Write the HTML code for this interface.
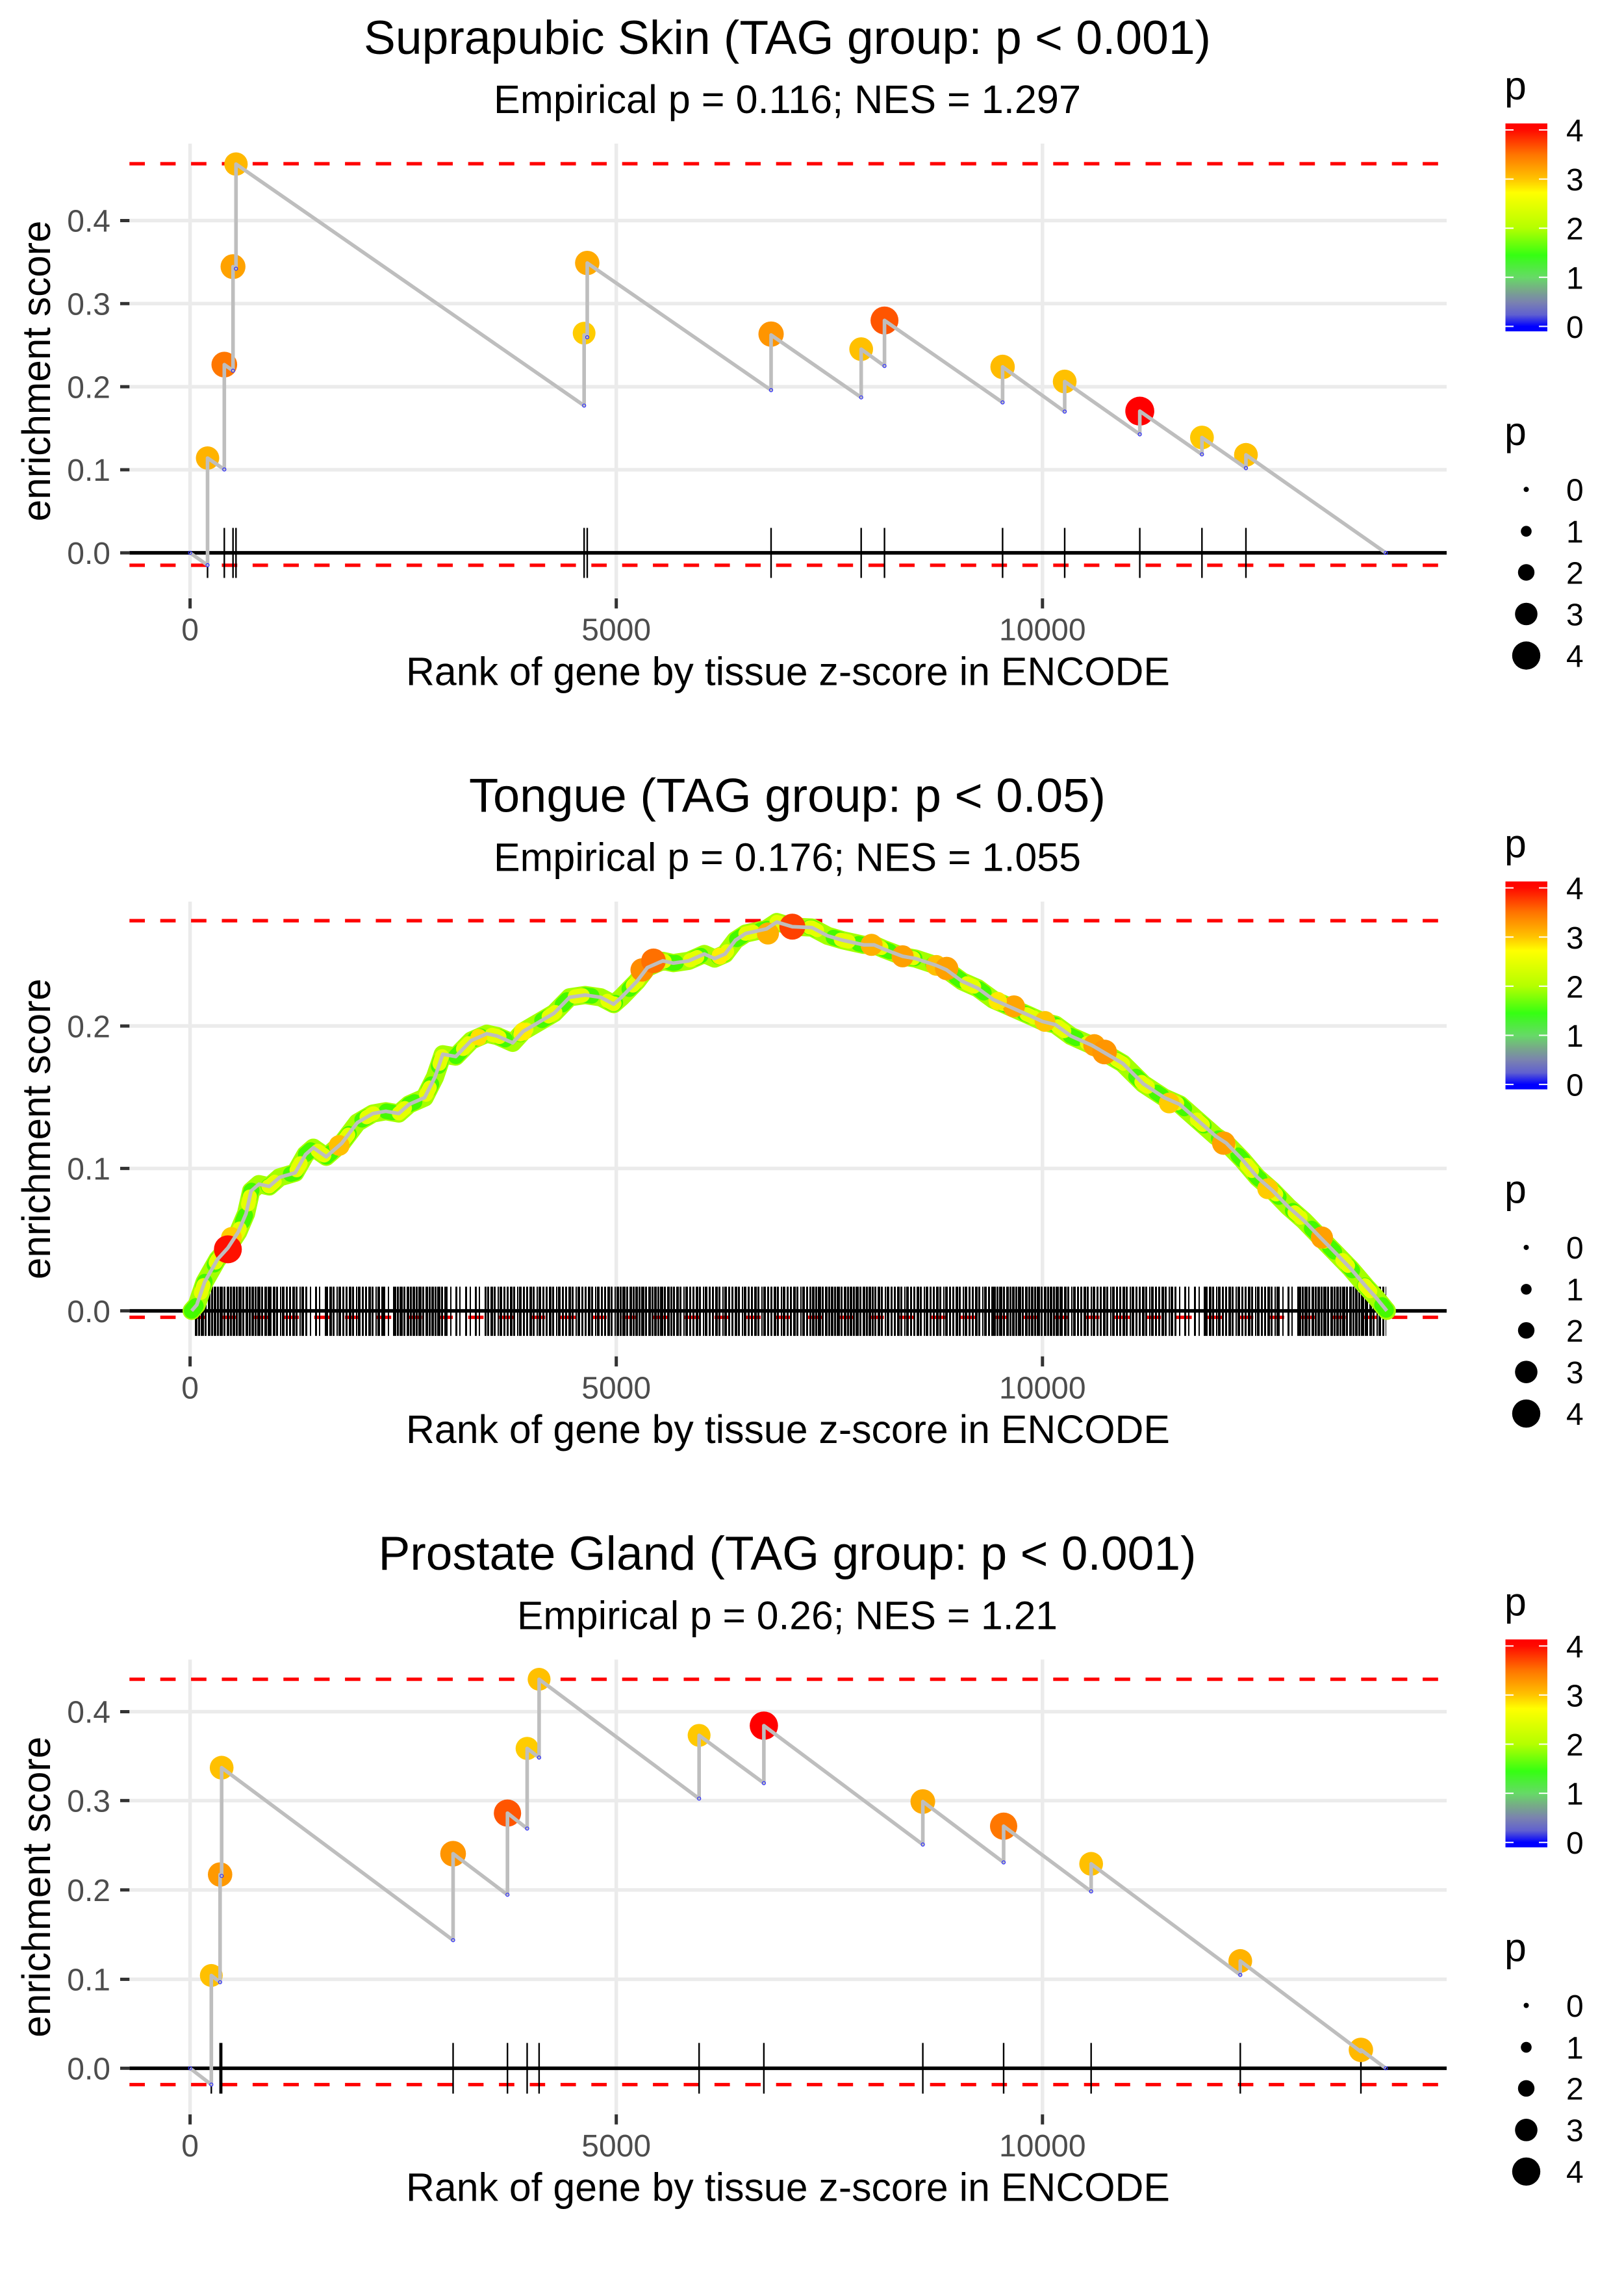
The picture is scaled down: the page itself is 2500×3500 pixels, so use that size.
<!DOCTYPE html>
<html><head><meta charset="utf-8"><style>
html,body{margin:0;padding:0;background:#fff;width:2500px;height:3500px;overflow:hidden}
svg{display:block}
text{font-family:"Liberation Sans",Arial,Helvetica,sans-serif}
</style></head><body>
<svg xmlns="http://www.w3.org/2000/svg" width="2500" height="3500" viewBox="0 0 2500 3500">
<defs>
<linearGradient id="cg" x1="0" y1="0" x2="0" y2="1">
<stop offset="0" stop-color="#FF0000"/>
<stop offset="0.031" stop-color="#FF0A00"/>
<stop offset="0.149" stop-color="#FF7400"/>
<stop offset="0.267" stop-color="#FFC400"/>
<stop offset="0.333" stop-color="#FFFF00"/>
<stop offset="0.504" stop-color="#B4FF00"/>
<stop offset="0.634" stop-color="#35FF12"/>
<stop offset="0.74" stop-color="#66DA66"/>
<stop offset="0.80" stop-color="#77AA88"/>
<stop offset="0.86" stop-color="#7A82B0"/>
<stop offset="0.92" stop-color="#6060D0"/>
<stop offset="0.976" stop-color="#0000FF"/>
<stop offset="1" stop-color="#0000FF"/>
</linearGradient>
<path id="c2" d="M295,850.9 L302.9,841.8 L314.9,806.7 L334.8,771.7 L350.8,754.1 L366.7,729.6 L378.7,701.5 L386.6,666.4 L398.6,655.9 L414.5,659.4 L430.5,645.4 L454.4,638.4 L470.3,610.3 L482.3,599.8 L502.2,613.8 L526.2,592.8 L550.1,561.2 L574,547.2 L593.9,543.7 L613.8,547.2 L629.8,533.1 L653.7,522.6 L669.6,491.1 L681.6,456 L701.5,459.5 L725.4,434.9 L749.4,424.4 L765.3,427.9 L789.2,438.4 L805.2,420.9 L829.1,406.9 L853,392.8 L876.9,368.3 L900.8,364.8 L924.7,368.3 L944.7,378.8 L956.6,368.3 L980.5,343.7 L996.5,322.7 L1020.4,312.2 L1036.4,315.7 L1060.3,312.2 L1084.2,301.6 L1100.1,308.7 L1116.1,301.6 L1132,280.6 L1148,270.1 L1179.8,263.1 L1195.8,252.5 L1219.7,259.6 L1250,261 L1273.9,273.6 L1297.8,280.6 L1329.7,287.6 L1345.7,287.6 L1361.6,294.6 L1389.5,305.2 L1409.4,308.7 L1441.3,319.2 L1457.3,326.2 L1481.2,343.7 L1505.1,354.3 L1529,371.8 L1552.9,382.3 L1584.8,396.4 L1604.8,405.5 L1624.7,410.4 L1648.6,427.9 L1680.5,442 L1704.4,456 L1728.3,470 L1760.2,501.6 L1792.1,522.6 L1816,533.1 L1839.9,554.2 L1871.8,582.3 L1887.8,592.8 L1911.7,617.3 L1935.6,645.4 L1959.5,666.4 L1983.4,691 L2007.3,712 L2031.2,736.6 L2055.2,761.1 L2079.1,785.7 L2103,813.7 L2119,831.3 L2134.9,850.9"/>
</defs>
<rect x="0" y="0" width="2500" height="3500" fill="#fff"/>

<!-- ================= PANEL 1 ================= -->
<g transform="translate(0,0)">
<g stroke="#EBEBEB" stroke-width="5.5">
<line x1="292.6" y1="221" x2="292.6" y2="921"/><line x1="948.7" y1="221" x2="948.7" y2="921"/><line x1="1604.8" y1="221" x2="1604.8" y2="921"/>
<line x1="199.3" y1="339.5" x2="2227" y2="339.5"/><line x1="199.3" y1="467.3" x2="2227" y2="467.3"/><line x1="199.3" y1="595.2" x2="2227" y2="595.2"/><line x1="199.3" y1="723" x2="2227" y2="723"/><line x1="199.3" y1="850.9" x2="2227" y2="850.9"/>
</g>
<g stroke="#FF0000" stroke-width="5.3" stroke-dasharray="23.7 23.7">
<line x1="199.3" y1="252" x2="2227" y2="252"/><line x1="199.3" y1="870" x2="2227" y2="870"/>
</g>
<line x1="199.3" y1="850.9" x2="2227" y2="850.9" stroke="#000" stroke-width="5.5"/>
<path d="M319.5 812.5V889.5M345.3 812.5V889.5M358.7 812.5V889.5M363.3 812.5V889.5M899.2 812.5V889.5M904 812.5V889.5M1187 812.5V889.5M1325.7 812.5V889.5M1361.6 812.5V889.5M1543.4 812.5V889.5M1639 812.5V889.5M1754.6 812.5V889.5M1850.3 812.5V889.5M1918 812.5V889.5" stroke="#000" stroke-width="2.4"/>
<g>
<circle cx="319.5" cy="705" r="18" fill="#FFB300"/>
<circle cx="345.3" cy="561.2" r="19.8" fill="#FF7700"/>
<circle cx="358.7" cy="410.4" r="19.2" fill="#FFA200"/>
<circle cx="363.3" cy="252.5" r="18" fill="#FFB800"/>
<circle cx="899.2" cy="512.8" r="17.5" fill="#FFCC00"/>
<circle cx="904" cy="404.8" r="18.8" fill="#FFAA00"/>
<circle cx="1187" cy="514.2" r="19.5" fill="#FF9500"/>
<circle cx="1325.7" cy="537.4" r="18.3" fill="#FFC000"/>
<circle cx="1361.6" cy="493.2" r="21.5" fill="#FF5500"/>
<circle cx="1543.4" cy="564.7" r="18.8" fill="#FFBB00"/>
<circle cx="1639" cy="587.2" r="18.3" fill="#FFC000"/>
<circle cx="1754.6" cy="632.8" r="22.3" fill="#FF0000"/>
<circle cx="1850.3" cy="673.4" r="18.3" fill="#FFC800"/>
<circle cx="1918" cy="700.1" r="18.3" fill="#FFC000"/>
</g>
<path d="M292.6,850.9 L319.5,869.9 L319.5,705 L345.3,722.6 L345.3,561.2 L358.7,570.6 L358.7,410.4 L363.3,413.6 L363.3,252.5 L899.2,624.3 L899.2,515.6 L904,519.1 L904,404.8 L1187,600.5 L1187,515.6 L1325.7,611.7 L1325.7,537.4 L1361.6,563.3 L1361.6,493.2 L1543.4,619.4 L1543.4,564.7 L1639,633.5 L1639,587.2 L1754.6,668.5 L1754.6,632.8 L1850.3,699.4 L1850.3,673.4 L1918,720.5 L1918,700.1 L2133.3,850.9" fill="none" stroke="#BEBEBE" stroke-width="5.6" stroke-linejoin="round"/>
<g fill="none" stroke="#2B2BFF" stroke-width="1.2">
<circle cx="292.6" cy="850.9" r="2.5"/><circle cx="319.5" cy="869.9" r="2.5"/><circle cx="345.3" cy="722.6" r="2.5"/><circle cx="358.7" cy="570.6" r="2.5"/><circle cx="363.3" cy="413.6" r="2.5"/><circle cx="899.2" cy="624.3" r="2.5"/><circle cx="904" cy="519.1" r="2.5"/><circle cx="1187" cy="600.5" r="2.5"/><circle cx="1325.7" cy="611.7" r="2.5"/><circle cx="1361.6" cy="563.3" r="2.5"/><circle cx="1543.4" cy="619.4" r="2.5"/><circle cx="1639" cy="633.5" r="2.5"/><circle cx="1754.6" cy="668.5" r="2.5"/><circle cx="1850.3" cy="699.4" r="2.5"/><circle cx="1918" cy="720.5" r="2.5"/><circle cx="2133.3" cy="850.9" r="2.5"/>
</g>
<g stroke="#333333" stroke-width="5">
<line x1="185" y1="339.5" x2="199.3" y2="339.5"/><line x1="185" y1="467.3" x2="199.3" y2="467.3"/><line x1="185" y1="595.2" x2="199.3" y2="595.2"/><line x1="185" y1="723" x2="199.3" y2="723"/><line x1="185" y1="850.9" x2="199.3" y2="850.9"/>
<line x1="292.6" y1="921" x2="292.6" y2="936.5"/><line x1="948.7" y1="921" x2="948.7" y2="936.5"/><line x1="1604.8" y1="921" x2="1604.8" y2="936.5"/>
</g>
<g font-size="48" fill="#4D4D4D" text-anchor="end">
<text x="170" y="356.7">0.4</text><text x="170" y="484.5">0.3</text><text x="170" y="612.4">0.2</text><text x="170" y="740.2">0.1</text><text x="170" y="868.1">0.0</text>
</g>
<g font-size="48" fill="#4D4D4D" text-anchor="middle">
<text x="292.6" y="985.6">0</text><text x="948.7" y="985.6">5000</text><text x="1604.8" y="985.6">10000</text>
</g>
<text x="1213" y="1054.4" font-size="60.8" text-anchor="middle" fill="#000" textLength="1176" lengthAdjust="spacingAndGlyphs">Rank of gene by tissue z-score in ENCODE</text>
<text transform="translate(77,571) rotate(-90)" font-size="60.8" text-anchor="middle" fill="#000" textLength="463" lengthAdjust="spacingAndGlyphs">enrichment score</text>
<text x="1212" y="82.8" font-size="73" text-anchor="middle" fill="#000" textLength="1304" lengthAdjust="spacingAndGlyphs">Suprapubic Skin (TAG group: p &lt; 0.001)</text>
<text x="1212" y="174" font-size="60.8" text-anchor="middle" fill="#000" textLength="904" lengthAdjust="spacingAndGlyphs">Empirical p = 0.116; NES = 1.297</text>
<text x="2316" y="153" font-size="60.8" fill="#000">p</text>
<rect x="2317.5" y="190" width="64.5" height="320" fill="url(#cg)"/>
<g stroke="#fff" stroke-width="2">
<path d="M2317.5 200H2330M2369 200H2382M2317.5 275.6H2330M2369 275.6H2382M2317.5 351.2H2330M2369 351.2H2382M2317.5 426.8H2330M2369 426.8H2382M2317.5 502.4H2330M2369 502.4H2382"/>
</g>
<g font-size="48" fill="#000">
<text x="2411" y="217.5">4</text><text x="2411" y="293.1">3</text><text x="2411" y="368.7">2</text><text x="2411" y="444.3">1</text><text x="2411" y="519.9">0</text>
</g>
<text x="2316" y="685" font-size="60.8" fill="#000">p</text>
<g fill="#000">
<circle cx="2349.5" cy="753.3" r="4"/><circle cx="2349.5" cy="817.7" r="8.3"/><circle cx="2349.5" cy="881" r="12.7"/><circle cx="2349.5" cy="945" r="17.3"/><circle cx="2349.5" cy="1009" r="21.7"/>
</g>
<g font-size="48" fill="#000">
<text x="2411" y="770.5">0</text><text x="2411" y="835">1</text><text x="2411" y="898.3">2</text><text x="2411" y="962.3">3</text><text x="2411" y="1026.3">4</text>
</g>
</g>

<!-- ================= PANEL 2 ================= -->
<g transform="translate(0,1166.67)">
<g stroke="#EBEBEB" stroke-width="5.5">
<line x1="292.6" y1="221" x2="292.6" y2="921"/><line x1="948.7" y1="221" x2="948.7" y2="921"/><line x1="1604.8" y1="221" x2="1604.8" y2="921"/>
<line x1="199.3" y1="412.5" x2="2227" y2="412.5"/><line x1="199.3" y1="631.7" x2="2227" y2="631.7"/><line x1="199.3" y1="850.9" x2="2227" y2="850.9"/>
</g>
<g stroke="#FF0000" stroke-width="5.3" stroke-dasharray="23.7 23.7">
<line x1="199.3" y1="250.4" x2="2227" y2="250.4"/><line x1="199.3" y1="860.8" x2="2227" y2="860.8"/>
</g>
<line x1="199.3" y1="850.9" x2="2227" y2="850.9" stroke="#000" stroke-width="5.5"/>
<g stroke="#000" stroke-width="75.8">
<line x1="300" y1="851.6" x2="415" y2="851.6" stroke-dasharray="4 1 3 1 5 1 3 2 4 1 3 1"/>
<line x1="415" y1="851.6" x2="470" y2="851.6" stroke-dasharray="3 2 4 1 3 3 2 1 4 2 3 2"/>
<line x1="470" y1="851.6" x2="502" y2="851.6" stroke-dasharray="3 4 2 6 3 3 2 7"/>
<line x1="502" y1="851.6" x2="590" y2="851.6" stroke-dasharray="3 2 4 1 3 3 2 1 4 2 3 2"/>
<line x1="590" y1="851.6" x2="606" y2="851.6" stroke-dasharray="3 4 2 6 3 3 2 7"/>
<line x1="606" y1="851.6" x2="686" y2="851.6" stroke-dasharray="4 1 3 1 5 1 3 2 4 1 3 1"/>
<line x1="686" y1="851.6" x2="750" y2="851.6" stroke-dasharray="3 4 2 6 3 3 2 7"/>
<line x1="750" y1="851.6" x2="949" y2="851.6" stroke-dasharray="3 2 4 1 3 3 2 1 4 2 3 2"/>
<line x1="949" y1="851.6" x2="1036" y2="851.6" stroke-dasharray="4 1 3 1 5 1 3 2 4 1 3 1"/>
<line x1="1036" y1="851.6" x2="1250" y2="851.6" stroke-dasharray="3 2 4 1 3 3 2 1 4 2 3 2"/>
<line x1="1250" y1="851.6" x2="1346" y2="851.6" stroke-dasharray="4 1 3 1 5 1 3 2 4 1 3 1"/>
<line x1="1346" y1="851.6" x2="1529" y2="851.6" stroke-dasharray="3 2 4 1 3 3 2 1 4 2 3 2"/>
<line x1="1529" y1="851.6" x2="1633" y2="851.6" stroke-dasharray="4 1 3 1 5 1 3 2 4 1 3 1"/>
<line x1="1633" y1="851.6" x2="1808" y2="851.6" stroke-dasharray="3 2 4 1 3 3 2 1 4 2 3 2"/>
<line x1="1808" y1="851.6" x2="1856" y2="851.6" stroke-dasharray="3 4 2 6 3 3 2 7"/>
<line x1="1856" y1="851.6" x2="1967" y2="851.6" stroke-dasharray="3 2 4 1 3 3 2 1 4 2 3 2"/>
<line x1="1967" y1="851.6" x2="1999" y2="851.6" stroke-dasharray="3 4 2 6 3 3 2 7"/>
<line x1="1999" y1="851.6" x2="2103" y2="851.6" stroke-dasharray="4 1 3 1 5 1 3 2 4 1 3 1"/>
<line x1="2103" y1="851.6" x2="2134" y2="851.6" stroke-dasharray="3 2 4 1 3 3 2 1 4 2 3 2"/>
</g>
<use href="#c2" fill="none" stroke="#A4FF00" stroke-width="28" stroke-linejoin="round" stroke-linecap="round"/>
<use href="#c2" fill="none" stroke="#44FA00" stroke-width="24" stroke-dasharray="10 30" stroke-linecap="round" stroke-linejoin="round"/>
<use href="#c2" fill="none" stroke="#E6FF00" stroke-width="22" stroke-dasharray="12 40" stroke-dashoffset="20" stroke-linecap="round" stroke-linejoin="round"/>
<g>
<circle cx="356.3" cy="738" r="16" fill="#FFCC00"/>
<circle cx="350.8" cy="756.2" r="21.5" fill="#FF1000"/>
<circle cx="522.2" cy="596.3" r="16" fill="#FFC000"/>
<circle cx="805.2" cy="420.9" r="14" fill="#FFEE00"/>
<circle cx="988.5" cy="326.2" r="18" fill="#FF8C00"/>
<circle cx="1006" cy="312.2" r="19" fill="#FF7000"/>
<circle cx="1182.2" cy="270.1" r="17" fill="#FFB000"/>
<circle cx="1219.7" cy="259.6" r="20" fill="#FF4000"/>
<circle cx="1341.7" cy="287.6" r="17" fill="#FFB000"/>
<circle cx="1389.5" cy="305.2" r="17" fill="#FFA000"/>
<circle cx="1441.3" cy="319.2" r="16" fill="#FFC000"/>
<circle cx="1457.3" cy="324" r="18" fill="#FFA000"/>
<circle cx="1560.9" cy="382.3" r="17" fill="#FFA500"/>
<circle cx="1608.7" cy="405.5" r="16" fill="#FFC400"/>
<circle cx="1684.5" cy="442" r="17" fill="#FFA000"/>
<circle cx="1700.4" cy="452.5" r="19" fill="#FF9500"/>
<circle cx="1800" cy="531" r="16" fill="#FFCC00"/>
<circle cx="1883.8" cy="592.8" r="18" fill="#FFA000"/>
<circle cx="1951.5" cy="663" r="16" fill="#FFCC00"/>
<circle cx="2035" cy="738" r="17" fill="#FFA000"/>
<circle cx="1536" cy="374" r="14" fill="#FFE800"/>
<circle cx="1108" cy="305" r="13" fill="#FFEE00"/>
<circle cx="737" cy="430" r="13" fill="#FFE000"/>
</g>
<use href="#c2" fill="none" stroke="#BEBEBE" stroke-width="5.6" stroke-linejoin="round"/>
<g stroke="#333333" stroke-width="5">
<line x1="185" y1="412.5" x2="199.3" y2="412.5"/><line x1="185" y1="631.7" x2="199.3" y2="631.7"/><line x1="185" y1="850.9" x2="199.3" y2="850.9"/>
<line x1="292.6" y1="921" x2="292.6" y2="936.5"/><line x1="948.7" y1="921" x2="948.7" y2="936.5"/><line x1="1604.8" y1="921" x2="1604.8" y2="936.5"/>
</g>
<g font-size="48" fill="#4D4D4D" text-anchor="end">
<text x="170" y="429.7">0.2</text><text x="170" y="648.9">0.1</text><text x="170" y="868.1">0.0</text>
</g>
<g font-size="48" fill="#4D4D4D" text-anchor="middle">
<text x="292.6" y="985.6">0</text><text x="948.7" y="985.6">5000</text><text x="1604.8" y="985.6">10000</text>
</g>
<text x="1213" y="1054.4" font-size="60.8" text-anchor="middle" fill="#000" textLength="1176" lengthAdjust="spacingAndGlyphs">Rank of gene by tissue z-score in ENCODE</text>
<text transform="translate(77,571) rotate(-90)" font-size="60.8" text-anchor="middle" fill="#000" textLength="463" lengthAdjust="spacingAndGlyphs">enrichment score</text>
<text x="1212" y="82.8" font-size="73" text-anchor="middle" fill="#000" textLength="980" lengthAdjust="spacingAndGlyphs">Tongue (TAG group: p &lt; 0.05)</text>
<text x="1212" y="174" font-size="60.8" text-anchor="middle" fill="#000" textLength="904" lengthAdjust="spacingAndGlyphs">Empirical p = 0.176; NES = 1.055</text>
<text x="2316" y="153" font-size="60.8" fill="#000">p</text>
<rect x="2317.5" y="190" width="64.5" height="320" fill="url(#cg)"/>
<g stroke="#fff" stroke-width="2">
<path d="M2317.5 200H2330M2369 200H2382M2317.5 275.6H2330M2369 275.6H2382M2317.5 351.2H2330M2369 351.2H2382M2317.5 426.8H2330M2369 426.8H2382M2317.5 502.4H2330M2369 502.4H2382"/>
</g>
<g font-size="48" fill="#000">
<text x="2411" y="217.5">4</text><text x="2411" y="293.1">3</text><text x="2411" y="368.7">2</text><text x="2411" y="444.3">1</text><text x="2411" y="519.9">0</text>
</g>
<text x="2316" y="685" font-size="60.8" fill="#000">p</text>
<g fill="#000">
<circle cx="2349.5" cy="753.3" r="4"/><circle cx="2349.5" cy="817.7" r="8.3"/><circle cx="2349.5" cy="881" r="12.7"/><circle cx="2349.5" cy="945" r="17.3"/><circle cx="2349.5" cy="1009" r="21.7"/>
</g>
<g font-size="48" fill="#000">
<text x="2411" y="770.5">0</text><text x="2411" y="835">1</text><text x="2411" y="898.3">2</text><text x="2411" y="962.3">3</text><text x="2411" y="1026.3">4</text>
</g>
</g>

<!-- ================= PANEL 3 ================= -->
<g transform="translate(0,2333.33)">
<g stroke="#EBEBEB" stroke-width="5.5">
<line x1="292.6" y1="221" x2="292.6" y2="921"/><line x1="948.7" y1="221" x2="948.7" y2="921"/><line x1="1604.8" y1="221" x2="1604.8" y2="921"/>
<line x1="199.3" y1="301.2" x2="2227" y2="301.2"/><line x1="199.3" y1="438" x2="2227" y2="438"/><line x1="199.3" y1="575.5" x2="2227" y2="575.5"/><line x1="199.3" y1="713.1" x2="2227" y2="713.1"/><line x1="199.3" y1="850" x2="2227" y2="850"/>
</g>
<g stroke="#FF0000" stroke-width="5.3" stroke-dasharray="23.7 23.7">
<line x1="199.3" y1="251.3" x2="2227" y2="251.3"/><line x1="199.3" y1="875.2" x2="2227" y2="875.2"/>
</g>
<line x1="199.3" y1="850" x2="2227" y2="850" stroke="#000" stroke-width="5.5"/>
<path d="M325.3 811V889M338.8 811V889M341.2 811V889M697.5 811V889M781.2 811V889M811.5 811V889M829.9 811V889M1076.2 811V889M1175.9 811V889M1420.6 811V889M1545 811V889M1679.7 811V889M1909.3 811V889M2095 811V889" stroke="#000" stroke-width="2.4"/>
<g>
<circle cx="325.3" cy="707.2" r="17.6" fill="#FFC000"/>
<circle cx="338.8" cy="551.8" r="18.8" fill="#FF9900"/>
<circle cx="341.2" cy="387.4" r="18.3" fill="#FFC000"/>
<circle cx="697.5" cy="519.8" r="19.8" fill="#FF9500"/>
<circle cx="781.2" cy="457.3" r="21" fill="#FF5500"/>
<circle cx="811.5" cy="357.7" r="17.8" fill="#FFCC00"/>
<circle cx="829.9" cy="251.3" r="17.6" fill="#FFC000"/>
<circle cx="1076.2" cy="337.6" r="17.6" fill="#FFC800"/>
<circle cx="1175.9" cy="322.7" r="21.8" fill="#FF0000"/>
<circle cx="1420.6" cy="439.5" r="19" fill="#FFAA00"/>
<circle cx="1545" cy="477.4" r="21" fill="#FF7700"/>
<circle cx="1679.7" cy="535.4" r="18.3" fill="#FFC000"/>
<circle cx="1909.3" cy="684.9" r="18.3" fill="#FFB300"/>
<circle cx="2095" cy="821.7" r="18.8" fill="#FFB800"/>
</g>
<path d="M292.6,850 L325.3,875.2 L325.3,707.2 L338.8,717.6 L338.8,551.8 L341.2,554 L341.2,387.4 L697.5,652.9 L697.5,519.8 L781.2,583 L781.2,457.3 L811.5,481.1 L811.5,357.7 L829.9,371.8 L829.9,251.3 L1076.2,435 L1076.2,337.6 L1175.9,411.2 L1175.9,322.7 L1420.6,505.7 L1420.6,439.5 L1545,533.2 L1545,477.4 L1679.7,577.8 L1679.7,535.4 L1909.3,706.4 L1909.3,684.9 L2095,824.5 L2095,821.6 L2133.3,850" fill="none" stroke="#BEBEBE" stroke-width="5.6" stroke-linejoin="round"/>
<g fill="none" stroke="#2B2BFF" stroke-width="1.2">
<circle cx="292.6" cy="850" r="2.5"/><circle cx="325.3" cy="875.2" r="2.5"/><circle cx="338.8" cy="717.6" r="2.5"/><circle cx="341.2" cy="554" r="2.5"/><circle cx="697.5" cy="652.9" r="2.5"/><circle cx="781.2" cy="583" r="2.5"/><circle cx="811.5" cy="481.1" r="2.5"/><circle cx="829.9" cy="371.8" r="2.5"/><circle cx="1076.2" cy="435" r="2.5"/><circle cx="1175.9" cy="411.2" r="2.5"/><circle cx="1420.6" cy="505.7" r="2.5"/><circle cx="1545" cy="533.2" r="2.5"/><circle cx="1679.7" cy="577.8" r="2.5"/><circle cx="1909.3" cy="706.4" r="2.5"/><circle cx="2133.3" cy="850" r="2.5"/>
</g>
<g stroke="#333333" stroke-width="5">
<line x1="185" y1="301.2" x2="199.3" y2="301.2"/><line x1="185" y1="438" x2="199.3" y2="438"/><line x1="185" y1="575.5" x2="199.3" y2="575.5"/><line x1="185" y1="713.1" x2="199.3" y2="713.1"/><line x1="185" y1="850" x2="199.3" y2="850"/>
<line x1="292.6" y1="921" x2="292.6" y2="936.5"/><line x1="948.7" y1="921" x2="948.7" y2="936.5"/><line x1="1604.8" y1="921" x2="1604.8" y2="936.5"/>
</g>
<g font-size="48" fill="#4D4D4D" text-anchor="end">
<text x="170" y="318.4">0.4</text><text x="170" y="455.2">0.3</text><text x="170" y="592.7">0.2</text><text x="170" y="730.3">0.1</text><text x="170" y="867.2">0.0</text>
</g>
<g font-size="48" fill="#4D4D4D" text-anchor="middle">
<text x="292.6" y="985.6">0</text><text x="948.7" y="985.6">5000</text><text x="1604.8" y="985.6">10000</text>
</g>
<text x="1213" y="1054.4" font-size="60.8" text-anchor="middle" fill="#000" textLength="1176" lengthAdjust="spacingAndGlyphs">Rank of gene by tissue z-score in ENCODE</text>
<text transform="translate(77,571) rotate(-90)" font-size="60.8" text-anchor="middle" fill="#000" textLength="463" lengthAdjust="spacingAndGlyphs">enrichment score</text>
<text x="1212" y="82.8" font-size="73" text-anchor="middle" fill="#000" textLength="1259" lengthAdjust="spacingAndGlyphs">Prostate Gland (TAG group: p &lt; 0.001)</text>
<text x="1212" y="174" font-size="60.8" text-anchor="middle" fill="#000" textLength="832" lengthAdjust="spacingAndGlyphs">Empirical p = 0.26; NES = 1.21</text>
<text x="2316" y="153" font-size="60.8" fill="#000">p</text>
<rect x="2317.5" y="190" width="64.5" height="320" fill="url(#cg)"/>
<g stroke="#fff" stroke-width="2">
<path d="M2317.5 200H2330M2369 200H2382M2317.5 275.6H2330M2369 275.6H2382M2317.5 351.2H2330M2369 351.2H2382M2317.5 426.8H2330M2369 426.8H2382M2317.5 502.4H2330M2369 502.4H2382"/>
</g>
<g font-size="48" fill="#000">
<text x="2411" y="217.5">4</text><text x="2411" y="293.1">3</text><text x="2411" y="368.7">2</text><text x="2411" y="444.3">1</text><text x="2411" y="519.9">0</text>
</g>
<text x="2316" y="685" font-size="60.8" fill="#000">p</text>
<g fill="#000">
<circle cx="2349.5" cy="753.3" r="4"/><circle cx="2349.5" cy="817.7" r="8.3"/><circle cx="2349.5" cy="881" r="12.7"/><circle cx="2349.5" cy="945" r="17.3"/><circle cx="2349.5" cy="1009" r="21.7"/>
</g>
<g font-size="48" fill="#000">
<text x="2411" y="770.5">0</text><text x="2411" y="835">1</text><text x="2411" y="898.3">2</text><text x="2411" y="962.3">3</text><text x="2411" y="1026.3">4</text>
</g>
</g>
</svg>
</body></html>
